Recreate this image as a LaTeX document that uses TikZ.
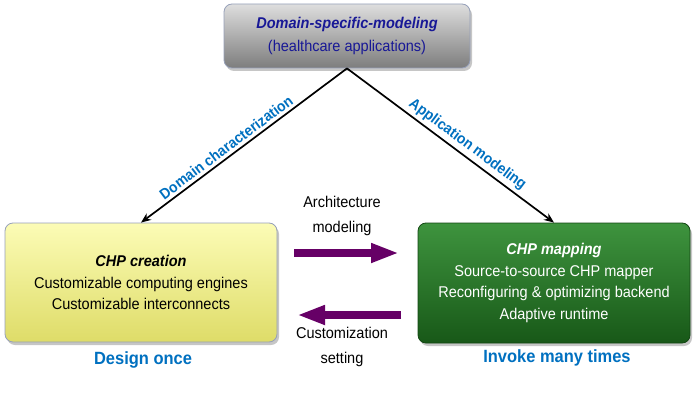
\documentclass[tikz,border=0pt]{standalone}
\usepackage{fontspec}
\setmainfont{Liberation Sans}[FakeStretch=0.93]
\usetikzlibrary{arrows.meta,shadows,calc}
\definecolor{navy}{RGB}{24,24,150}
\definecolor{lblue}{RGB}{0,112,192}
\definecolor{purp}{RGB}{102,0,102}
\definecolor{gtop}{RGB}{222,222,222}
\definecolor{gbot}{RGB}{125,125,125}
\definecolor{ytop}{RGB}{252,252,182}
\definecolor{ybot}{RGB}{222,220,104}
\definecolor{grtop}{RGB}{62,148,62}
\definecolor{grbot}{RGB}{24,88,24}
\definecolor{edge}{RGB}{150,160,185}
\tikzset{
  boxstyle/.style={rounded corners=8pt, draw=edge, line width=0.8pt,
    drop shadow={shadow xshift=2pt, shadow yshift=-3pt, opacity=0.45},
    align=center, inner sep=0pt},
  bodyfont/.style={font=\fontsize{15.6}{21.5}\selectfont},
  flowarrow/.style={line width=1.7pt, -{Stealth[length=10pt,width=8pt]}},
  fatarrow/.style={line width=8pt, purp, -{Triangle[length=28pt,width=18pt]}},
  difflabel/.style={text=lblue, font=\fontsize{15}{16}\selectfont\bfseries, inner sep=3pt},
  caption/.style={text=lblue, font=\fontsize{17.7}{18}\selectfont\bfseries},
  midtext/.style={align=center, font=\fontsize{15.6}{25}\selectfont}
}
\begin{document}
\begin{tikzpicture}[x=1pt,y=1pt]
\useasboundingbox (0,0) rectangle (700,405);

\node[boxstyle, top color=gtop, bottom color=gbot, minimum width=246pt, minimum height=64pt,
      text=navy, font=\fontsize{15.6}{23}\selectfont] (top) at (347,369)
  {\textbf{\textit{Domain-specific-modeling}}\\(healthcare applications)};

\node[boxstyle, bodyfont, top color=ytop, bottom color=ybot, minimum width=272pt, minimum height=119pt] (left) at (141,122.5)
  {\textbf{\textit{CHP creation}}\\Customizable computing engines\\Customizable interconnects};

\node[boxstyle, bodyfont, draw=grbot!80!black, top color=grtop, bottom color=grbot, text=white, minimum width=272pt, minimum height=120pt] (right) at (554,122)
  {\textbf{\textit{CHP mapping}}\\Source-to-source CHP mapper\\Reconfiguring \& optimizing backend\\Adaptive runtime};

\draw[flowarrow] (top.south) -- node[difflabel, sloped, above, pos=0.56] {Domain characterization} (left.north);
\draw[flowarrow] (top.south) -- node[difflabel, sloped, above, pos=0.55] {Application modeling} (right.north);

\coordinate (r1) at (294,152);
\coordinate (r2) at (399,152);
\coordinate (l1) at (401,90);
\coordinate (l2) at (297,90);
\draw[fatarrow] (r1) -- (r2);
\draw[fatarrow] (l1) -- (l2);

\node[midtext] (archlab) at (342,189.5) {Architecture\\modeling};
\node[midtext] (custlab) at (342,58) {Customization\\setting};

\node[caption] (design) at (143,45) {Design once};
\node[caption] (invoke) at (557,47) {Invoke many times};
\end{tikzpicture}
\end{document}
